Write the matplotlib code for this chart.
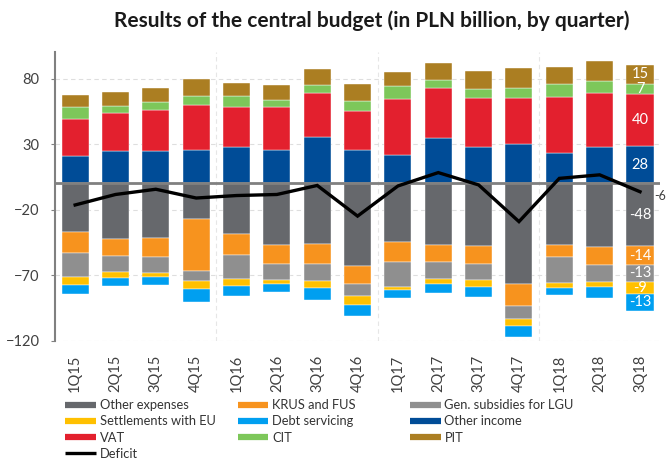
import matplotlib
matplotlib.use('Agg')
import matplotlib.pyplot as plt
from matplotlib.lines import Line2D
import numpy as np

plt.rcParams['font.family'] = ['Lato', 'DejaVu Sans']

quarters = ['1Q15', '2Q15', '3Q15', '4Q15', '1Q16', '2Q16', '3Q16', '4Q16',
            '1Q17', '2Q17', '3Q17', '4Q17', '1Q18', '2Q18', '3Q18']

# revenues (stacked upwards)
other_income = [20.9, 24.4, 24.4, 25.7, 27.5, 25.7, 35.1, 25.7, 21.9, 34.9, 27.5, 30.0, 23.4, 28.0, 28.2]
vat = [28.5, 29.0, 31.8, 34.1, 30.5, 32.3, 34.1, 29.5, 42.5, 38.1, 37.9, 35.4, 42.8, 41.2, 40.2]
cit = [8.6, 5.6, 5.6, 6.9, 8.4, 5.6, 5.9, 7.6, 9.6, 5.9, 6.6, 7.6, 9.6, 9.2, 7.1]
pit = [9.4, 10.5, 11.2, 12.9, 10.4, 11.5, 11.9, 13.0, 11.0, 12.7, 14.0, 14.8, 12.7, 15.0, 15.2]

# expenditures (stacked downwards)
other_exp = [-36.9, -42.5, -41.5, -27.2, -38.7, -47.1, -46.1, -63.1, -45.0, -47.1, -47.8, -77.1, -47.3, -48.9, -48.1]
krus = [-16.5, -13.2, -15.0, -39.5, -16.0, -14.7, -15.7, -14.0, -15.1, -13.0, -14.0, -16.5, -9.2, -13.2, -14.2]
lgu = [-17.8, -11.7, -11.9, -8.1, -18.3, -12.0, -13.0, -8.9, -18.8, -12.9, -12.2, -10.2, -19.8, -13.0, -12.8]
eu = [-6.7, -4.9, -2.8, -5.6, -5.6, -2.8, -4.8, -6.9, -2.5, -3.8, -4.9, -5.1, -3.3, -3.8, -9.2]
debt = [-6.3, -6.3, -6.7, -10.2, -7.4, -6.6, -9.2, -8.1, -5.9, -6.7, -8.1, -8.1, -5.6, -8.4, -13.0]

deficit = [-16.5, -8.5, -4.5, -11.2, -9.3, -8.5, -1.6, -25.0, -2.0, 8.2, -1.2, -29.2, 3.8, 6.5, -6.4]

colors = {
    'Other expenses': '#66686c',
    'KRUS and FUS': '#f7931e',
    'Gen. subsidies for LGU': '#8f8f8f',
    'Settlements with EU': '#ffc000',
    'Debt servicing': '#009ff0',
    'Other income': '#004c97',
    'VAT': '#e3202e',
    'CIT': '#7dc75a',
    'PIT': '#ab7e22',
}

pos_series = [('Other income', other_income), ('VAT', vat), ('CIT', cit), ('PIT', pit)]
neg_series = [('Other expenses', other_exp), ('KRUS and FUS', krus),
              ('Gen. subsidies for LGU', lgu), ('Settlements with EU', eu),
              ('Debt servicing', debt)]

fig = plt.figure(figsize=(6.68, 4.59), dpi=100)
ax = fig.add_axes([0.0823, 0.258, 0.906, 0.628])

x = np.arange(len(quarters))
w = 0.67

bottom = np.zeros(len(x))
for name, vals in pos_series:
    ax.bar(x, vals, w, bottom=bottom, color=colors[name], edgecolor='white', linewidth=0.3, zorder=2)
    bottom += np.array(vals)

bottom = np.zeros(len(x))
for name, vals in neg_series:
    ax.bar(x, vals, w, bottom=bottom, color=colors[name], edgecolor='white', linewidth=0.3, zorder=2)
    bottom += np.array(vals)

ax.axhline(0, color='#808080', lw=2, zorder=3)
ax.plot(x, deficit, color='black', lw=2.4, zorder=4, solid_joinstyle='miter')

# data labels on the last quarter
i = len(x) - 1
for group in (pos_series, neg_series):
    base = 0.0
    for name, vals in group:
        v = vals[i]
        ax.text(x[i], base + v / 2, '%d' % round(v), ha='center', va='center',
                color='white', fontsize=10.5, zorder=5)
        base += v
ax.text(x[i] + 0.36, deficit[i] - 3.5, '%d' % round(deficit[i]), ha='left', va='center',
        color='#404040', fontsize=9, clip_on=False)

ax.set_xlim(-0.5, len(x) - 0.5)
ax.set_ylim(-120, 100)
ax.set_yticks([-120, -70, -20, 30, 80])
ax.set_xticks(x)
ax.set_xticklabels(quarters, rotation=90, fontsize=10.5, color='#404040')
ax.tick_params(axis='y', labelsize=10.5, labelcolor='#404040', length=3, color='#808080', pad=8)
ax.tick_params(axis='x', length=0, pad=10)

for s in ['top', 'right', 'bottom']:
    ax.spines[s].set_visible(False)
ax.spines['left'].set_color('#808080')
ax.spines['left'].set_linewidth(1.5)

ax.grid(axis='y', color='#dedede', ls=(0, (4, 3)), lw=0.8, zorder=0)
for xv in [3.5, 7.5, 11.5]:
    ax.axvline(xv, color='#e6e6e6', ls=(0, (4, 3)), lw=0.8, zorder=0)

fig.text(0.557, 0.955, 'Results of the central budget (in PLN billion, by quarter)',
         ha='center', va='center', fontsize=15, fontweight='bold', color='#1a1a1a')

# legend, three columns laid out like the original
def handle(c, lw=4.5):
    return Line2D([0], [0], color=c, lw=lw, solid_capstyle='butt')

legend_cols = [
    (0.098, [('Other expenses', handle(colors['Other expenses'])),
             ('Settlements with EU', handle(colors['Settlements with EU'])),
             ('VAT', handle(colors['VAT'])),
             ('Deficit', handle('black', 2.4))]),
    (0.356, [('KRUS and FUS', handle(colors['KRUS and FUS'])),
             ('Debt servicing', handle(colors['Debt servicing'])),
             ('CIT', handle(colors['CIT']))]),
    (0.614, [('Gen. subsidies for LGU', handle(colors['Gen. subsidies for LGU'])),
             ('Other income', handle(colors['Other income'])),
             ('PIT', handle(colors['PIT']))]),
]
for xpos, items in legend_cols:
    fig.legend([h for _, h in items], [l for l, _ in items], loc='upper left',
               bbox_to_anchor=(xpos, 0.13), frameon=False, fontsize=9.3,
               handlelength=2.35, handletextpad=0.3, labelspacing=0.32,
               borderpad=0, borderaxespad=0, labelcolor='#333333')

fig.savefig('out.png', dpi=100)
